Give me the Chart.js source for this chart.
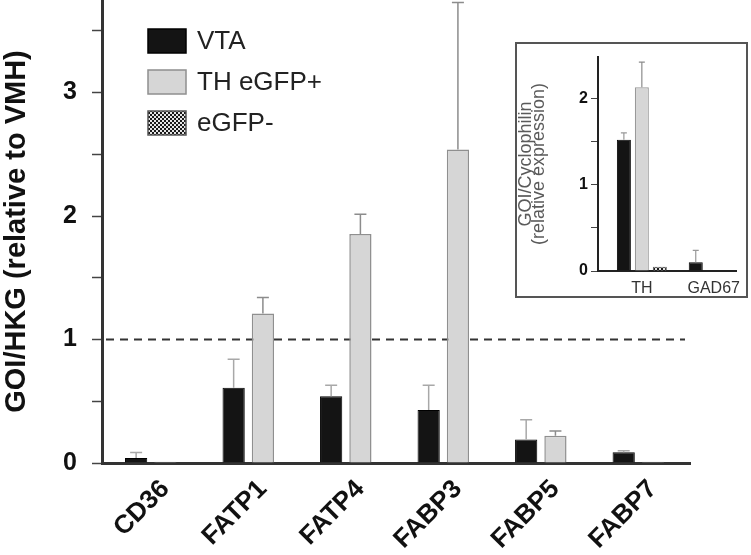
<!DOCTYPE html>
<html>
<head>
<meta charset="utf-8">
<script src="https://cdn.jsdelivr.net/npm/chart.js@4.4.1/dist/chart.umd.min.js"></script>
<style>
    body { margin: 0; background: #fff; }
    #wrap { position: relative; width: 751px; height: 555px; }
    #inset { position: absolute; left: 515px; top: 42px; width: 229px; height: 252px;
             border: 2px solid #555; background: #fff; }
</style>
</head>
<body>
<div id="wrap">
    <canvas id="grafico" width="751" height="555"></canvas>
    <div id="inset"><canvas id="graficoInset" width="229" height="252"></canvas></div>
</div>
<script>
// dados do gráfico principal
const categorias = ['CD36', 'FATP1', 'FATP4', 'FABP3', 'FABP5', 'FABP7'];
const vta      = [0.04, 0.61, 0.54, 0.43, 0.19, 0.087];
const vtaErro  = [0.045, 0.23, 0.09, 0.2, 0.16, 0.013];
const thGfp    = [0.01, 1.21, 1.855, 2.54, 0.22, 0.01];
const thGfpErro = [0, 0.13, 0.16, 1.19, 0.04, 0];
const gfpNeg   = [null, null, null, null, null, null];
const nomesSeries = ['VTA', 'TH eGFP+', 'eGFP-'];
const yMax = 3.75;
const linhaRef = 1;

// dados do inset
const categoriasInset = ['TH', 'GAD67'];
const vtaInset      = [1.52, 0.1];
const vtaInsetErro  = [0.08, 0.14];
const thInset       = [2.13, null];
const thInsetErro   = [0.29, 0];
const negInset      = [0.05, null];
const yMaxInset = 2.48;

function xadrez() {
    const c = document.createElement('canvas');
    c.width = 4; c.height = 4;
    const g = c.getContext('2d');
    g.fillStyle = '#e6e6e6'; g.fillRect(0, 0, 4, 4);
    g.fillStyle = '#1a1a1a'; g.fillRect(0, 0, 2, 2); g.fillRect(2, 2, 2, 2);
    return g.createPattern(c, 'repeat');
}
const padrao = xadrez();

// barras de erro (só para cima)
const barrasErro = {
    id: 'barrasErro',
    afterDatasetsDraw(chart, args, opts) {
        const ctx = chart.ctx;
        const y = chart.scales.y;
        chart.data.datasets.forEach((ds, i) => {
            if (!ds.erros) return;
            chart.getDatasetMeta(i).data.forEach((bar, j) => {
                const v = ds.data[j], e = ds.erros[j];
                if (v == null || !e) return;
                const topo = y.getPixelForValue(v + e);
                ctx.save();
                ctx.strokeStyle = ds.corErro;
                ctx.lineWidth = opts.largura;
                ctx.beginPath();
                ctx.moveTo(bar.x, bar.y);
                ctx.lineTo(bar.x, topo);
                ctx.moveTo(bar.x - opts.cap, topo);
                ctx.lineTo(bar.x + opts.cap, topo);
                ctx.stroke();
                ctx.restore();
            });
        });
    }
};

// linha tracejada em y = 1
const linhaTracejada = {
    id: 'linhaTracejada',
    beforeDatasetsDraw(chart) {
        const ctx = chart.ctx;
        const yp = chart.scales.y.getPixelForValue(linhaRef);
        const a = chart.chartArea;
        ctx.save();
        ctx.strokeStyle = '#333';
        ctx.lineWidth = 2;
        ctx.setLineDash([8, 6]);
        ctx.beginPath();
        ctx.moveTo(a.left + 4, yp);
        ctx.lineTo(a.right - 5, yp);
        ctx.stroke();
        ctx.restore();
    }
};

// legenda desenhada dentro da área do gráfico
const legenda = {
    id: 'legenda',
    afterDraw(chart) {
        const ctx = chart.ctx;
        let y = 29;
        chart.data.datasets.forEach(ds => {
            ctx.save();
            ctx.fillStyle = ds.backgroundColor;
            ctx.fillRect(148, y, 38, 24);
            ctx.strokeStyle = ds.borderColor;
            ctx.lineWidth = 1.5;
            ctx.strokeRect(148, y, 38, 24);
            ctx.fillStyle = '#222';
            ctx.font = '26px "Liberation Sans", Arial, sans-serif';
            ctx.textBaseline = 'middle';
            ctx.fillText(ds.label, 197, y + 13);
            ctx.restore();
            y += 41;
        });
    }
};

let grafico;
let graficoInset;

window.onload = () => {
    const ctx = document.getElementById('grafico').getContext('2d');

    grafico = new Chart(ctx, {
        type: 'bar',
        data: {
            labels: categorias.map((c, i) => i),
            datasets: [
                { label: nomesSeries[0], data: vta, erros: vtaErro, corErro: '#a8a8a8',
                  backgroundColor: '#141414', borderColor: '#000', borderWidth: 1 },
                { label: nomesSeries[1], data: thGfp, erros: thGfpErro, corErro: '#8c8c8c',
                  backgroundColor: '#d6d6d6', borderColor: '#8f8f8f', borderWidth: 1.5 },
                { label: nomesSeries[2], data: gfpNeg,
                  backgroundColor: padrao, borderColor: '#555', borderWidth: 1 }
            ]
        },
        options: {
            responsive: false,
            animation: false,
            categoryPercentage: 0.9,
            barPercentage: 0.76,
            layout: { padding: { left: 0, top: 0, right: 61, bottom: 0 } },
            plugins: {
                legend: { display: false },
                tooltip: { enabled: false },
                barrasErro: { largura: 1.5, cap: 6 }
            },
            scales: {
                x: {
                    type: 'linear',
                    offset: false,
                    min: -0.65,
                    max: 5.38,
                    afterBuildTicks: s => { s.ticks = categorias.map((c, i) => ({ value: i })); },
                    afterFit: s => { s.height = 92; s.paddingLeft = 0; s.paddingRight = 0; },
                    grid: { drawOnChartArea: false, drawTicks: false },
                    border: { color: '#333', width: 3 },
                    ticks: {
                        callback: v => categorias[v],
                        minRotation: 45, maxRotation: 45,
                        padding: 11,
                        color: '#111',
                        font: { family: '"Liberation Sans", Arial, sans-serif', size: 26, weight: 'bold' }
                    }
                },
                y: {
                    min: 0,
                    max: yMax,
                    afterFit: s => { s.width = 102; s.paddingTop = 0; s.paddingBottom = 0; },
                    grid: { drawOnChartArea: false, tickLength: 10, tickColor: '#444', tickWidth: 1.5 },
                    border: { color: '#333', width: 3 },
                    ticks: {
                        stepSize: 0.5,
                        includeBounds: false,
                        padding: 15,
                        color: '#111',
                        callback: v => Number.isInteger(v) ? v : '',
                        font: { family: '"Liberation Sans", Arial, sans-serif', size: 25, weight: 'bold' }
                    },
                    title: {
                        display: true,
                        text: 'GOI/HKG (relative to VMH)',
                        color: '#111',
                        padding: { top: 0, bottom: 0 },
                        font: { family: '"Liberation Sans", Arial, sans-serif', size: 29, weight: 'bold' }
                    }
                }
            }
        },
        plugins: [linhaTracejada, barrasErro, legenda]
    });

    const ctx2 = document.getElementById('graficoInset').getContext('2d');

    graficoInset = new Chart(ctx2, {
        type: 'bar',
        data: {
            labels: categoriasInset.map((c, i) => i),
            datasets: [
                { label: nomesSeries[0], data: vtaInset, erros: vtaInsetErro, corErro: '#999',
                  backgroundColor: '#141414', borderColor: '#000', borderWidth: 1 },
                { label: nomesSeries[1], data: thInset, erros: thInsetErro, corErro: '#8c8c8c',
                  backgroundColor: '#d6d6d6', borderColor: '#999', borderWidth: 1.2 },
                { label: nomesSeries[2], data: negInset,
                  backgroundColor: padrao, borderColor: '#555', borderWidth: 1 }
            ]
        },
        options: {
            responsive: false,
            animation: false,
            categoryPercentage: 0.75,
            barPercentage: 0.78,
            layout: { padding: { left: 0, top: 13, right: 10, bottom: 0 } },
            plugins: {
                legend: { display: false },
                tooltip: { enabled: false },
                barrasErro: { largura: 1.2, cap: 3 }
            },
            scales: {
                x: {
                    type: 'linear',
                    offset: false,
                    min: -0.61,
                    max: 1.31,
                    afterBuildTicks: s => { s.ticks = categoriasInset.map((c, i) => ({ value: i })); },
                    afterFit: s => { s.height = 25; s.paddingLeft = 0; s.paddingRight = 0; },
                    grid: { drawOnChartArea: false, drawTicks: false },
                    border: { color: '#222', width: 2 },
                    ticks: {
                        callback: v => categoriasInset[v],
                        maxRotation: 0,
                        autoSkip: false,
                        padding: 8,
                        color: '#333',
                        font: { family: '"Liberation Sans", Arial, sans-serif', size: 16 }
                    }
                },
                y: {
                    min: 0,
                    max: yMaxInset,
                    afterFit: s => { s.width = 81; s.paddingTop = 0; s.paddingBottom = 0; },
                    grid: { drawOnChartArea: false, tickLength: 7, tickColor: '#444', tickWidth: 1 },
                    border: { color: '#222', width: 2 },
                    ticks: {
                        stepSize: 0.5,
                        includeBounds: false,
                        padding: 3,
                        color: '#111',
                        callback: v => Number.isInteger(v) ? v : '',
                        font: { family: '"Liberation Sans", Arial, sans-serif', size: 16, weight: 'bold' }
                    },
                    title: {
                        display: true,
                        text: ['GOI/Cyclophilin', '(relative expression)'],
                        color: '#5a5a5a',
                        padding: { top: 3, bottom: 0 },
                        font: { family: '"Liberation Sans", Arial, sans-serif', size: 18, lineHeight: 0.7 }
                    }
                }
            }
        },
        plugins: [barrasErro]
    });
};
</script>
</body>
</html>
